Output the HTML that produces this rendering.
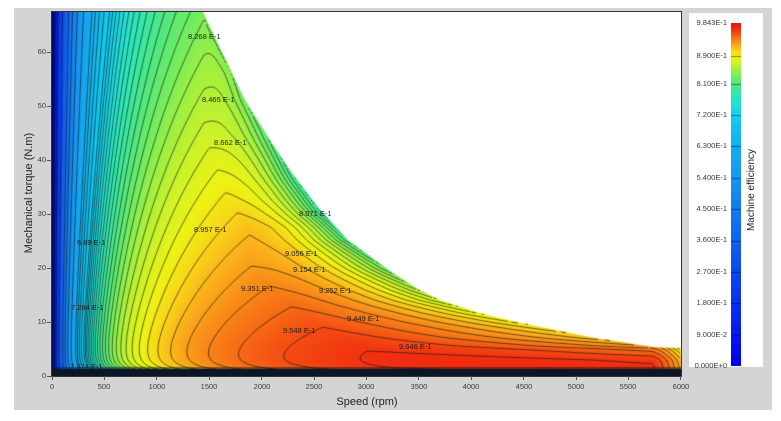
<!DOCTYPE html>
<html><head><meta charset="utf-8">
<style>
html,body{margin:0;padding:0;background:#fff;}
#root{position:relative;width:781px;height:421px;overflow:hidden;background:#fff;font-family:"Liberation Sans",Arial,sans-serif;}
#panel{position:absolute;left:14px;top:8px;width:758px;height:402px;background:#d4d4d4;}
.t{position:absolute;font-size:7.5px;line-height:8px;color:#3a3a3a;white-space:nowrap;}
.xl{width:40px;text-align:center;top:383px;}
.yl{left:16px;width:30px;text-align:right;}
.cl{left:687px;width:40px;text-align:right;}
.lb{position:absolute;font-size:7.5px;line-height:8px;color:#1e1e1e;white-space:nowrap;}
.tk{position:absolute;background:#555;}
</style></head><body>
<div id="root">
<div id="panel"></div>
<div style="position:absolute;left:52px;top:12px;width:629px;height:364px;background:#fff;"></div>
<canvas id="plot" width="629" height="364" style="position:absolute;left:52px;top:12px;"></canvas>
<div style="position:absolute;left:51px;top:11px;width:629px;height:364px;border:1px solid #333;"></div>

<!-- y ticks -->
<div class="tk" style="left:47px;top:376px;width:5px;height:1px"></div>
<div class="tk" style="left:47px;top:322px;width:5px;height:1px"></div>
<div class="tk" style="left:47px;top:268px;width:5px;height:1px"></div>
<div class="tk" style="left:47px;top:214px;width:5px;height:1px"></div>
<div class="tk" style="left:47px;top:160px;width:5px;height:1px"></div>
<div class="tk" style="left:47px;top:106px;width:5px;height:1px"></div>
<div class="tk" style="left:47px;top:52px;width:5px;height:1px"></div>
<div class="t yl" style="top:372px">0</div>
<div class="t yl" style="top:318px">10</div>
<div class="t yl" style="top:264px">20</div>
<div class="t yl" style="top:210px">30</div>
<div class="t yl" style="top:156px">40</div>
<div class="t yl" style="top:102px">50</div>
<div class="t yl" style="top:48px">60</div>

<!-- x ticks -->
<div class="tk" style="left:52px;top:376px;width:1px;height:4px"></div>
<div class="tk" style="left:104px;top:376px;width:1px;height:4px"></div>
<div class="tk" style="left:156px;top:376px;width:1px;height:4px"></div>
<div class="tk" style="left:209px;top:376px;width:1px;height:4px"></div>
<div class="tk" style="left:261px;top:376px;width:1px;height:4px"></div>
<div class="tk" style="left:314px;top:376px;width:1px;height:4px"></div>
<div class="tk" style="left:366px;top:376px;width:1px;height:4px"></div>
<div class="tk" style="left:418px;top:376px;width:1px;height:4px"></div>
<div class="tk" style="left:471px;top:376px;width:1px;height:4px"></div>
<div class="tk" style="left:523px;top:376px;width:1px;height:4px"></div>
<div class="tk" style="left:576px;top:376px;width:1px;height:4px"></div>
<div class="tk" style="left:628px;top:376px;width:1px;height:4px"></div>
<div class="tk" style="left:680px;top:376px;width:1px;height:4px"></div>
<div class="t xl" style="left:32px">0</div>
<div class="t xl" style="left:84px">500</div>
<div class="t xl" style="left:137px">1000</div>
<div class="t xl" style="left:189px">1500</div>
<div class="t xl" style="left:242px">2000</div>
<div class="t xl" style="left:294px">2500</div>
<div class="t xl" style="left:346px">3000</div>
<div class="t xl" style="left:399px">3500</div>
<div class="t xl" style="left:451px">4000</div>
<div class="t xl" style="left:504px">4500</div>
<div class="t xl" style="left:556px">5000</div>
<div class="t xl" style="left:608px">5500</div>
<div class="t xl" style="left:661px">6000</div>

<!-- axis titles -->
<div style="position:absolute;left:317px;top:396px;width:100px;text-align:center;font-size:11px;line-height:12px;color:#222;">Speed (rpm)</div>
<div style="position:absolute;left:-51px;top:187px;width:160px;height:12px;text-align:center;font-size:11px;line-height:12px;color:#222;transform:rotate(-90deg);">Mechanical torque (N.m)</div>

<!-- colorbar -->
<div style="position:absolute;left:689px;top:13px;width:74px;height:354px;background:#fff;"></div>
<canvas id="cbar" width="10" height="343" style="position:absolute;left:731px;top:23px;"></canvas>
<div class="t cl" style="top:19px">9.843E-1</div>
<div class="t cl" style="top:52px">8.900E-1</div>
<div class="t cl" style="top:80px">8.100E-1</div>
<div class="t cl" style="top:111px">7.200E-1</div>
<div class="t cl" style="top:142px">6.300E-1</div>
<div class="t cl" style="top:174px">5.400E-1</div>
<div class="t cl" style="top:205px">4.500E-1</div>
<div class="t cl" style="top:236px">3.600E-1</div>
<div class="t cl" style="top:268px">2.700E-1</div>
<div class="t cl" style="top:299px">1.800E-1</div>
<div class="t cl" style="top:331px">9.000E-2</div>
<div class="t cl" style="top:362px">0.000E+0</div>
<div style="position:absolute;left:692px;top:184px;width:120px;height:12px;text-align:center;font-size:10px;line-height:12px;color:#222;transform:rotate(-90deg);">Machine efficiency</div>

<!-- contour labels -->
<div class="lb" style="left:188px;top:33px">8.268 E-1</div>
<div class="lb" style="left:202px;top:96px">8.465 E-1</div>
<div class="lb" style="left:214px;top:139px">8.662 E-1</div>
<div class="lb" style="left:299px;top:210px">8.071 E-1</div>
<div class="lb" style="left:194px;top:226px">8.957 E-1</div>
<div class="lb" style="left:285px;top:250px">9.056 E-1</div>
<div class="lb" style="left:293px;top:266px">9.154 E-1</div>
<div class="lb" style="left:319px;top:287px">9.252 E-1</div>
<div class="lb" style="left:241px;top:285px">9.351 E-1</div>
<div class="lb" style="left:347px;top:315px">9.449 E-1</div>
<div class="lb" style="left:283px;top:327px">9.548 E-1</div>
<div class="lb" style="left:399px;top:343px">9.646 E-1</div>
<div class="lb" style="left:77px;top:239px">6.89 E-1</div>
<div class="lb" style="left:71px;top:304px">7.284 E-1</div>
<div class="lb" style="left:70px;top:363px">7.874 E-1</div>
</div>

<script>
(function(){
var S=6000/629, PX=5.4;
function interp(tab,x){
  if(x<=tab[0][0])return tab[0][1];
  for(var i=1;i<tab.length;i++){
    if(x<=tab[i][0]){var a=tab[i-1],b=tab[i];return a[1]+(b[1]-a[1])*(x-a[0])/(b[0]-a[0]);}
  }
  return tab[tab.length-1][1];
}
var stops=[[0,[0,0,232]],[0.09,[4,24,240]],[0.18,[8,48,240]],[0.27,[12,72,240]],[0.36,[16,98,240]],[0.45,[20,122,240]],[0.54,[22,150,240]],[0.63,[18,174,240]],[0.68,[16,192,240]],[0.72,[16,208,240]],[0.75,[32,224,216]],[0.78,[48,232,176]],[0.81,[80,232,128]],[0.83,[112,236,96]],[0.85,[160,240,64]],[0.87,[204,242,40]],[0.89,[238,242,20]],[0.905,[248,214,24]],[0.92,[250,172,26]],[0.935,[248,132,24]],[0.945,[245,106,21]],[0.955,[244,76,18]],[0.967,[242,44,16]],[0.9843,[232,24,16]],[2,[232,24,16]]];
function cmap(v){
  if(v<=0)return stops[0][1];
  for(var i=1;i<stops.length;i++){
    if(v<=stops[i][0]){var a=stops[i-1],b=stops[i],f=(v-a[0])/(b[0]-a[0]);
      return [a[1][0]+(b[1][0]-a[1][0])*f,a[1][1]+(b[1][1]-a[1][1])*f,a[1][2]+(b[1][2]-a[1][2])*f];}
  }
  return stops[stops.length-1][1];
}
var bs=[[190,-15],[203,12],[213,33],[245,100],[270,140],[292,173],[318,207],[348,240],[393,273],[420,290],[440,300],[480,313],[517,322],[590,337],[653,347],[681,348],[700,348.5]];
var bN=bs.map(function(p){return [(p[0]-52)*S,(376-p[1])/PX];});
function Tmax(n){if(n<bN[0][0])return 1e9;return interp(bN,n);}
var bT=bN.map(function(p){return [p[1],p[0]];}).reverse();bT.unshift([0,7000]);
function nmax(T){return interp(bT,T);}
var NB=[[0,3300],[3.3,3130],[9,2585],[13,2270],[16.5,2080],[20.4,1900],[27.4,1880],[32.6,1680],[45,1450],[100,1440]];
var F0=[[0,0.012],[3,0.025],[5,0.05],[7,0.07],[12,0.095],[20,0.15],[30,0.18],[36,0.16],[45,0.10],[56,0.04],[67,0.01],[100,0]];
var AL=[[0,0.85],[8,0.8],[14,0.5],[20,0.3],[100,0.3]];
function eta(n,T){
  if(n<0.5)n=0.5; if(T<0.05)T=0.05;
  var w=n*Math.PI/30;
  var r=0.005+0.00153*T+(430+5.5*T)/Math.pow(n,1.25)+6/(T*w);
  var nb=interp(NB,T),nm=nmax(T);
  if(n>nb){var u=Math.min(1.2,(n-nb)/Math.max(60,nm-nb));var F=interp(F0,T);var al=interp(AL,T);r+=F*(al*u+(1-al)*u*u*u);}
  if(n>5720){var s=(n-5720)/280;r+=0.05*Math.pow(s,1.5);}
  return 1/(1+r);
}
var cv=document.getElementById('plot'),ctx=cv.getContext('2d');
var W=629,H=364,img=ctx.createImageData(W,H),d=img.data;
for(var py=0;py<H;py++){
  var T=(H-py-0.5)/PX;
  for(var px=0;px<W;px++){
    var n=(px+0.5)*S;
    var tm=Tmax(n);
    var al=Math.max(0,Math.min(1,(tm-T)*PX+0.5));
    var o=(py*W+px)*4;
    if(al<=0){d[o]=255;d[o+1]=255;d[o+2]=255;d[o+3]=255;continue;}
    var c=cmap(eta(n,T));
    d[o]=c[0]*al+255*(1-al);d[o+1]=c[1]*al+255*(1-al);d[o+2]=c[2]*al+255*(1-al);d[o+3]=255;
  }
}
ctx.putImageData(img,0,0);
// contours
var G=2,NX=Math.floor(628/G)+1,NY=Math.floor(364/G)+1;
var V=new Float32Array(NX*NY);
for(var j=0;j<NY;j++){var cy=j*G;var TT=(364-cy)/PX;
  for(var i=0;i<NX;i++){var nn=i*G*S;V[j*NX+i]=(TT>Tmax(nn)+0.05||TT<0.3)?NaN:eta(nn,TT);}}
var step=0.009843;
function keep(k){ if(k>=72)return true; if(k>=64)return k%2==0; if(k>=40)return (k-70)%6==0; return k%12==4; }
ctx.beginPath();
for(var j=0;j<NY-1;j++){for(var i=0;i<NX-1;i++){
  var a=V[j*NX+i],b=V[j*NX+i+1],c=V[(j+1)*NX+i+1],e=V[(j+1)*NX+i];
  if(isNaN(a)||isNaN(b)||isNaN(c)||isNaN(e))continue;
  var mn=Math.min(a,b,c,e),mx=Math.max(a,b,c,e);
  var k0=Math.ceil(mn/step),k1=Math.floor(mx/step);
  for(var k=k0;k<=k1;k++){
    if(!keep(k))continue;
    var L=k*step,x0=i*G,y0=j*G,p=[];
    if((a-L)*(b-L)<0)p.push([x0+G*(L-a)/(b-a),y0]);
    if((b-L)*(c-L)<0)p.push([x0+G,y0+G*(L-b)/(c-b)]);
    if((e-L)*(c-L)<0)p.push([x0+G*(L-e)/(c-e),y0+G]);
    if((a-L)*(e-L)<0)p.push([x0,y0+G*(L-a)/(e-a)]);
    if(p.length>=2){ctx.moveTo(p[0][0],p[0][1]);ctx.lineTo(p[1][0],p[1][1]);}
    if(p.length==4){ctx.moveTo(p[2][0],p[2][1]);ctx.lineTo(p[3][0],p[3][1]);}
  }
}}
ctx.strokeStyle='rgba(20,20,20,0.85)';ctx.lineWidth=0.75;ctx.stroke();
// left dark strip
var g=ctx.createLinearGradient(0,0,6,0);g.addColorStop(0,'rgba(0,12,70,0.9)');g.addColorStop(1,'rgba(0,12,70,0)');
ctx.fillStyle=g;ctx.fillRect(0,0,6,H);
// bottom band
ctx.fillStyle='#0b1626';ctx.fillRect(0,357,W,7);
ctx.fillStyle='rgba(11,22,38,0.5)';ctx.fillRect(0,355,W,2);
// colorbar
var cb=document.getElementById('cbar'),cc=cb.getContext('2d');
var ci=cc.createImageData(10,343),cd=ci.data;
for(var y=0;y<343;y++){var v=(343-y-0.5)/348.47;var col=cmap(v);
  for(var x=0;x<10;x++){var o=(y*10+x)*4;cd[o]=col[0];cd[o+1]=col[1];cd[o+2]=col[2];cd[o+3]=255;}}
cc.putImageData(ci,0,0);
cc.fillStyle='rgba(0,0,0,0.45)';
[0.09,0.18,0.27,0.36,0.45,0.54,0.63,0.72,0.81,0.89].forEach(function(v){var y=Math.round(343-v*348.47);cc.fillRect(0,y,10,1);});
})();
</script>
</body></html>
